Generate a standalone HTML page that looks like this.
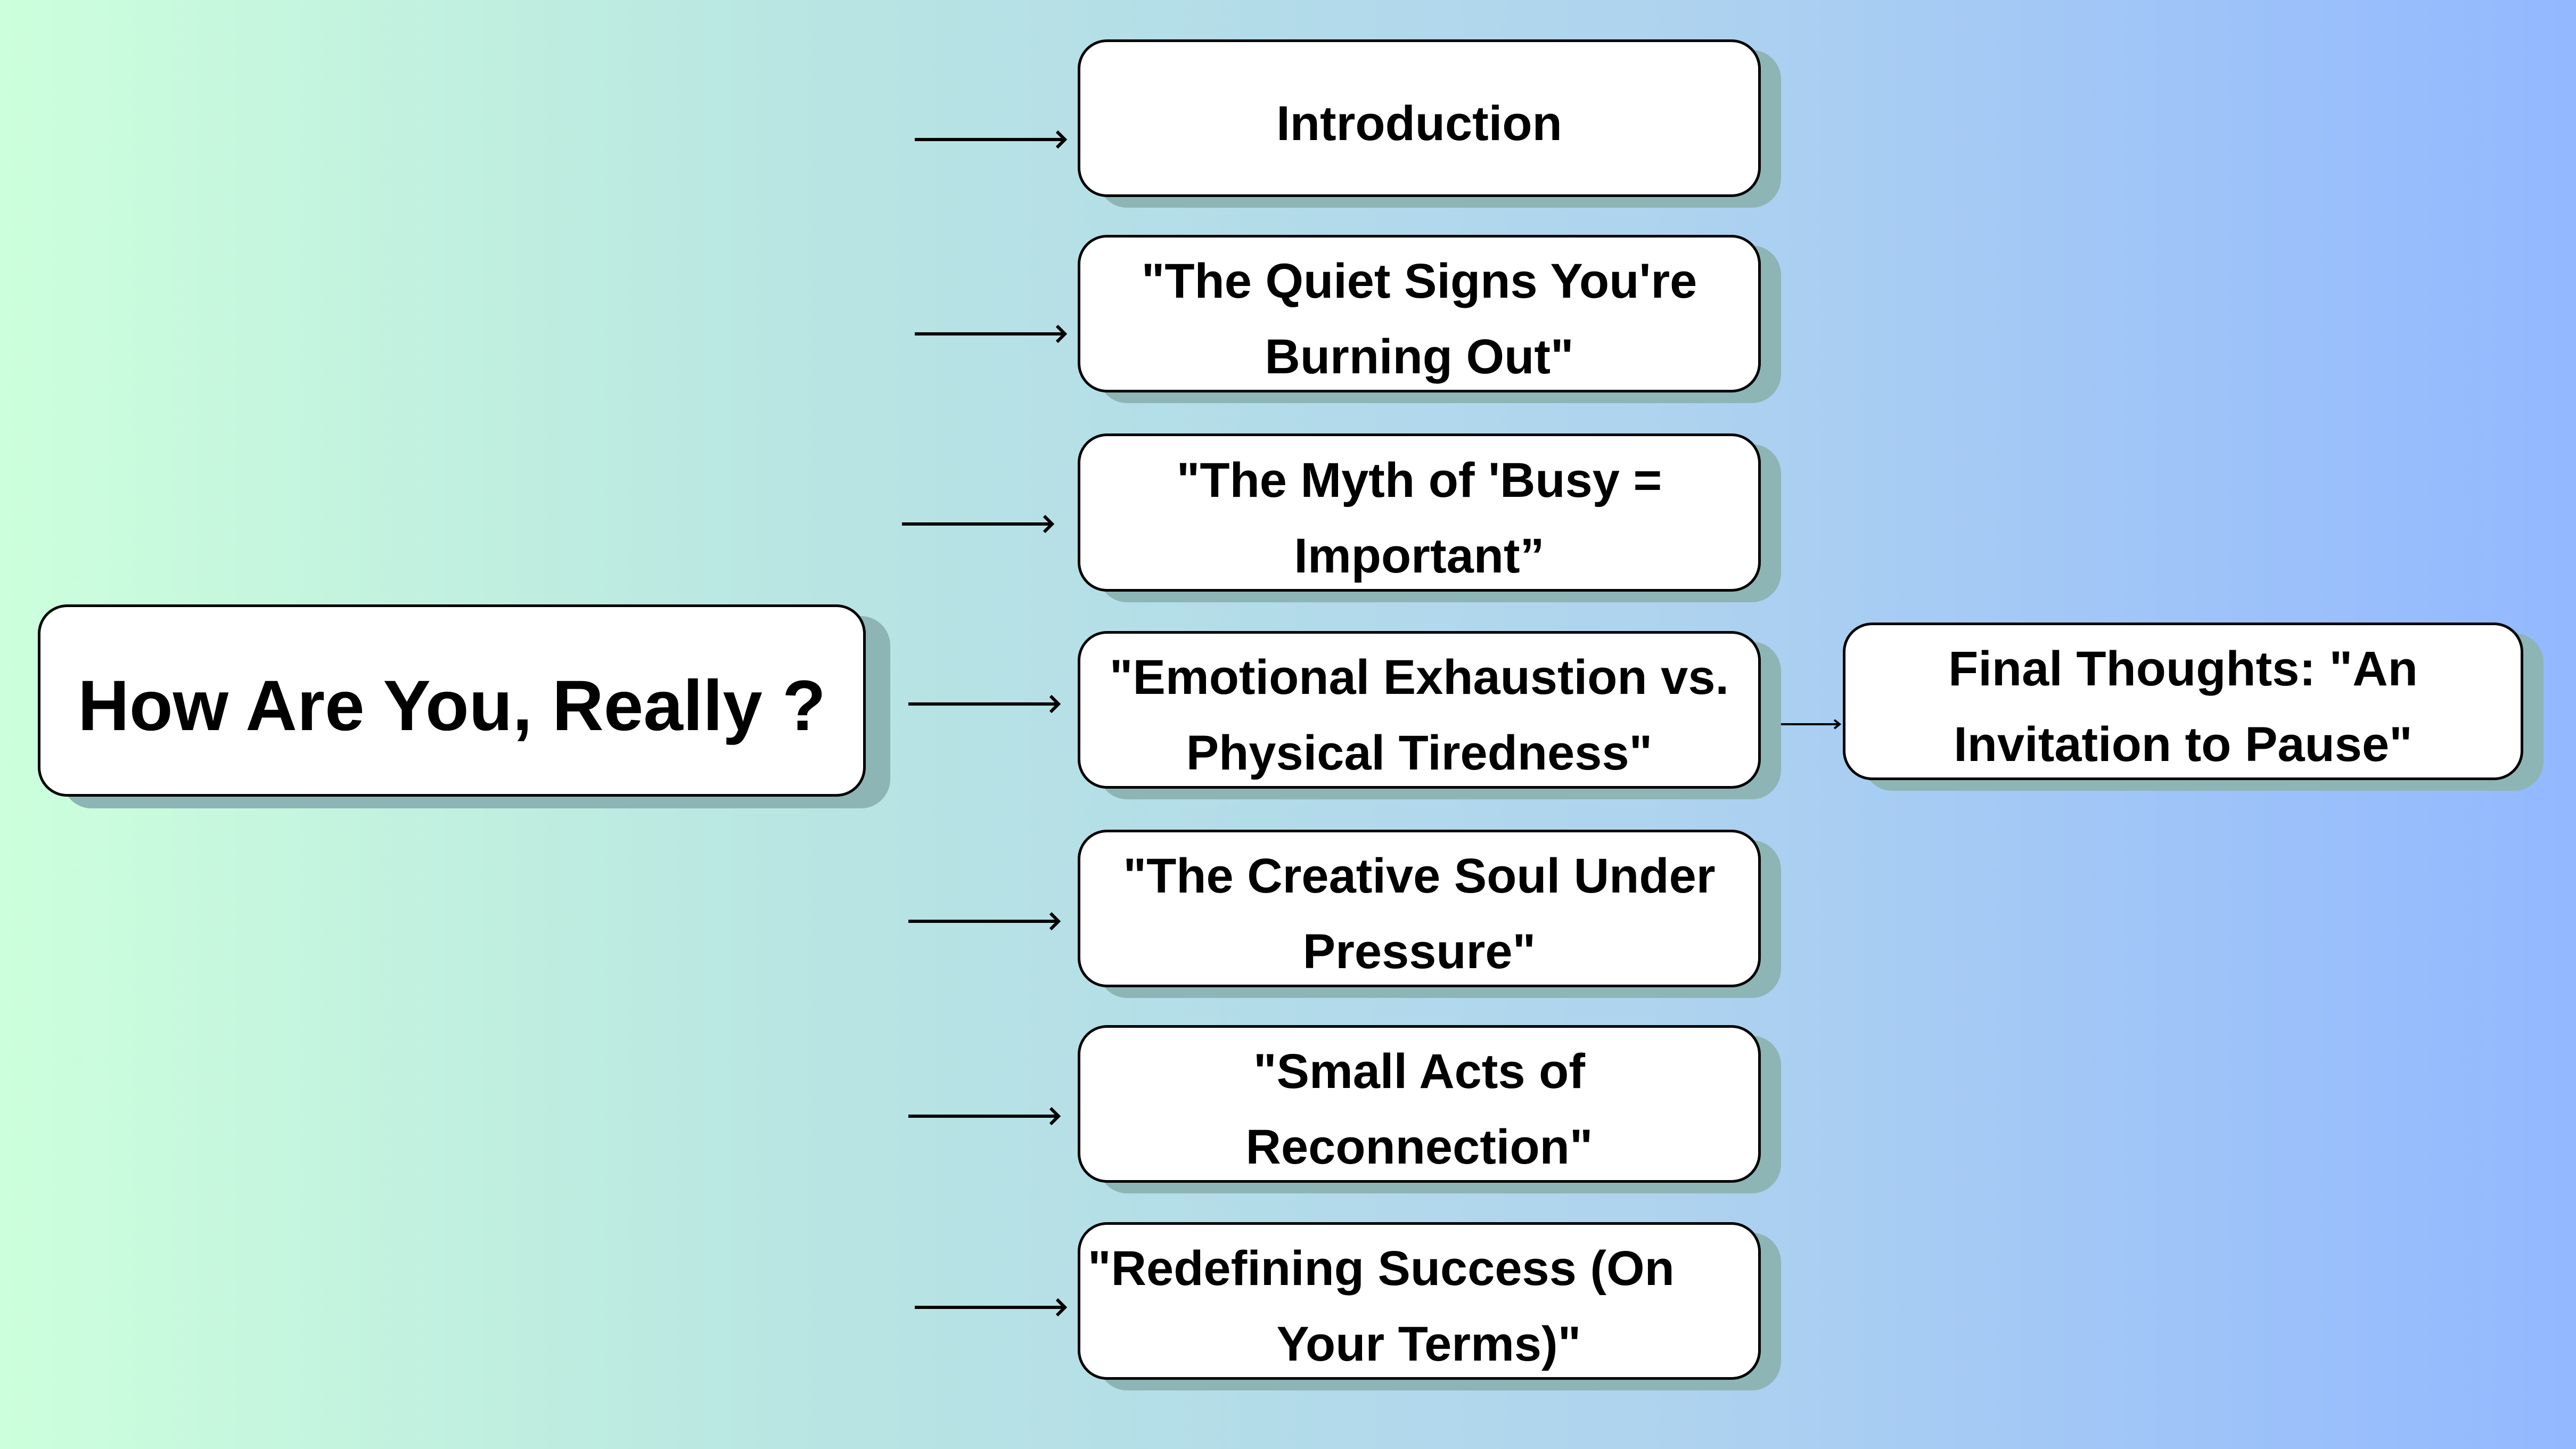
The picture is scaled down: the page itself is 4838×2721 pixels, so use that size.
<!DOCTYPE html>
<html><head><meta charset="utf-8"><style>
html,body{margin:0;padding:0}
body{width:4838px;height:2721px;position:relative;overflow:hidden;
background:linear-gradient(90deg,#ccffdc 0%,#b9e6e2 30%,#aed3ef 65%,#93b8ff 100%);
font-family:"Liberation Sans",sans-serif;font-weight:bold;color:#000}
.b{position:absolute;background:#fff;border:5px solid #000;border-radius:55px;box-sizing:border-box;
box-shadow:38px 20px 0 #8db5b5;display:flex;align-items:center;justify-content:center;text-align:center;
font-size:92px;line-height:142px;white-space:nowrap;padding-top:20px}
svg{position:absolute;left:0;top:0}
</style></head><body>
<svg width="4838" height="2721">
<g stroke="#000" stroke-width="6" fill="none">
<path d="M1718 262H2000M1985 247 2000 262 1985 277"/>
<path d="M1718 627H2000M1985 612 2000 627 1985 642"/>
<path d="M1694 984H1976M1961 969 1976 984 1961 999"/>
<path d="M1706 1322H1988M1973 1307 1988 1322 1973 1337"/>
<path d="M1706 1730H1988M1973 1715 1988 1730 1973 1745"/>
<path d="M1706 2096H1988M1973 2081 1988 2096 1973 2111"/>
<path d="M1718 2455H2000M1985 2440 2000 2455 1985 2470"/>
<path d="M3310 1360H3455M3445 1352 3455 1360 3445 1368" stroke-width="4"/>
</g></svg>
<div class="b" style="left:71px;top:1135px;width:1555px;height:361px;font-size:134px;box-shadow:46px 22px 0 #8db5b5;padding-top:20px">How Are You, Really ?</div>
<div class="b" style="left:2024px;top:74px;width:1283px;height:296px">Introduction</div>
<div class="b" style="left:2024px;top:441px;width:1283px;height:296px">"The Quiet Signs You're<br>Burning Out"</div>
<div class="b" style="left:2024px;top:814px;width:1283px;height:297px">"The Myth of 'Busy =<br>Important”</div>
<div class="b" style="left:2024px;top:1185px;width:1283px;height:296px">"Emotional Exhaustion vs.<br>Physical Tiredness"</div>
<div class="b" style="left:2024px;top:1558px;width:1283px;height:296px">"The Creative Soul Under<br>Pressure"</div>
<div class="b" style="left:2024px;top:1925px;width:1283px;height:296px">"Small Acts of<br>Reconnection"</div>
<div class="b" style="left:2024px;top:2295px;width:1283px;height:296px;justify-content:flex-start;padding-left:14px">"Redefining Success (On<br>&nbsp;&nbsp;&nbsp;&nbsp;&nbsp;&nbsp;&nbsp;Your Terms)"</div>
<div class="b" style="left:3461px;top:1169px;width:1278px;height:296px">Final Thoughts: "An<br>Invitation to Pause"</div>
</body></html>
